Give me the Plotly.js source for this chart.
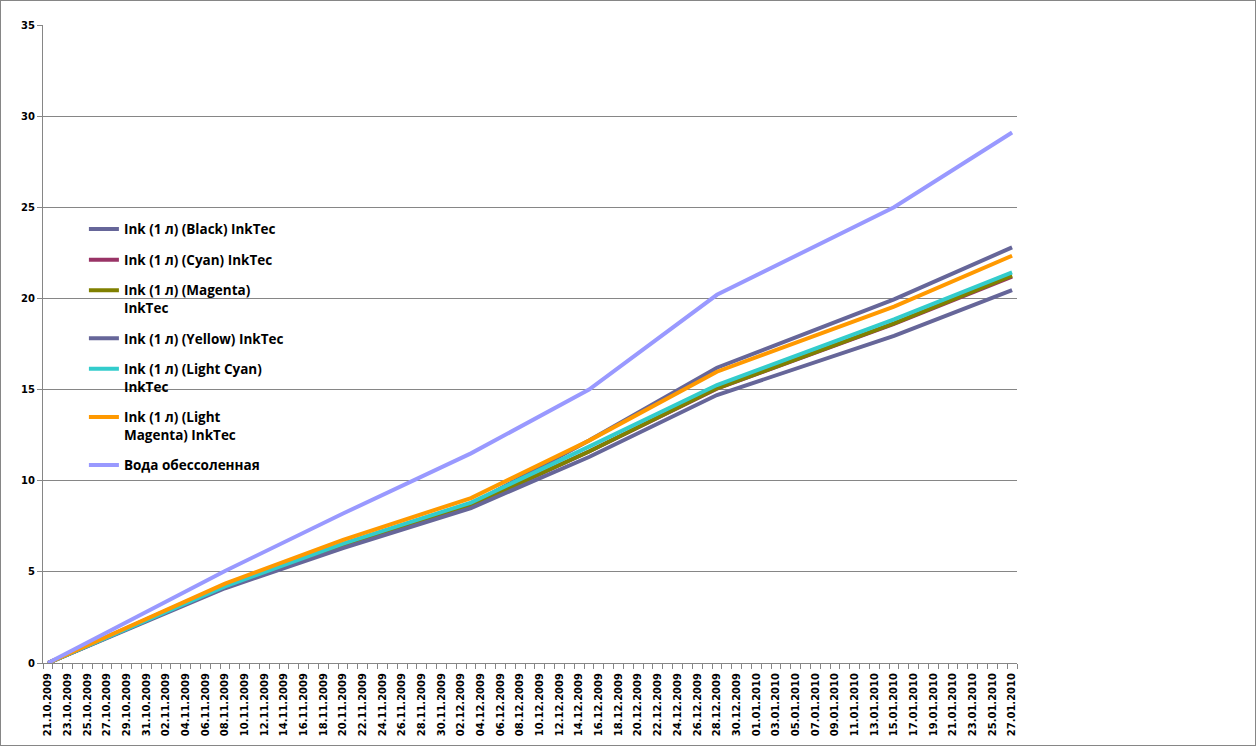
<!DOCTYPE html>
<html>
<head>
<meta charset="utf-8">
<script src="https://cdn.plot.ly/plotly-3.0.1.min.js"></script>
<style>
  body { margin: 0; background: #fff; }
  #chart { width: 1256px; height: 746px; }
  #frame { position: absolute; left: 0; top: 0; width: 1256px; height: 746px;
           box-sizing: border-box; border: 1px solid #868686; pointer-events: none; }
</style>
</head>
<body>
<div id="chart"></div>
<div id="frame"></div>
<script>
// measurement dates
var dates = ['2009-10-21', '2009-11-08', '2009-11-20', '2009-12-03',
             '2009-12-15', '2009-12-28', '2010-01-15', '2010-01-27'];

// values
var black        = [0, 4.3, 6.5, 8.7, 12.2, 16.2, 19.95, 22.8];
var cyan         = [0, 4.2, 6.45, 8.65, 11.6, 15.05, 18.6, 21.2];
var magenta      = [0, 4.2, 6.45, 8.65, 11.6, 15.07, 18.63, 21.25];
var yellow       = [0, 4.1, 6.3, 8.5, 11.3, 14.7, 17.94, 20.46];
var lightCyan    = [0, 4.2, 6.55, 8.8, 11.87, 15.25, 18.85, 21.43];
var lightMagenta = [0, 4.35, 6.75, 9.05, 12.2, 15.98, 19.55, 22.34];
var water        = [0, 5.05, 8.2, 11.5, 15.0, 20.2, 25.0, 29.1];

var names = ['Ink (1 л) (Black) InkTec', 'Ink (1 л) (Cyan) InkTec',
             'Ink (1 л) (Magenta)<br>InkTec', 'Ink (1 л) (Yellow) InkTec',
             'Ink (1 л) (Light Cyan)<br>InkTec', 'Ink (1 л) (Light<br>Magenta) InkTec',
             'Вода обессоленная'];
var series = [black, cyan, magenta, yellow, lightCyan, lightMagenta, water];
var colors = ['#666699', '#993366', '#808000', '#666699', '#33CCCC', '#FF9900', '#9999FF'];

var data = [];
for (var i = 0; i < series.length; i++) {
  data.push({
    type: 'scatter',
    mode: 'lines',
    x: dates,
    y: series[i],
    name: names[i],
    legendgroup: 'g' + i,
    line: { color: colors[i], width: 4 },
    hoverinfo: 'x+y+name'
  });
}

var day = 86400000;
var layout = {
  width: 1256,
  height: 746,
  margin: { l: 43, r: 239, t: 25, b: 83 },
  paper_bgcolor: '#fff',
  plot_bgcolor: '#fff',
  font: { family: 'DejaVu Sans', size: 10, color: '#000' },
  showlegend: true,
  legend: {
    x: 0.042, y: 0.704, xanchor: 'left', yanchor: 'top',
    bgcolor: 'rgba(0,0,0,0)',
    font: { family: 'Open Sans', size: 13.5, color: '#000', weight: 'bold' },
    tracegroupgap: 10,
    valign: 'top'
  },
  xaxis: {
    type: 'date',
    range: ['2009-10-20 12:00', '2010-01-27 12:00'],
    tick0: '2009-10-21',
    dtick: 2 * day,
    tickformat: '%d.%m.%Y',
    tickangle: -90,
    ticks: 'outside',
    ticklen: 5,
    tickcolor: 'rgba(0,0,0,0)',
    tickfont: { family: 'DejaVu Sans', size: 10, weight: 'bold' },
    minor: { ticks: 'outside', tick0: '2009-10-21 12:00', dtick: day, ticklen: 5, tickcolor: '#868686', showgrid: false },
    showgrid: false,
    showline: true,
    linecolor: '#868686',
    zeroline: false,
    fixedrange: true
  },
  yaxis: {
    range: [0, 35],
    dtick: 5,
    ticks: 'outside',
    ticklen: 5,
    tickcolor: '#868686',
    tickfont: { family: 'DejaVu Sans', size: 10, weight: 'bold' },
    showgrid: true,
    gridcolor: '#868686',
    showline: true,
    linecolor: '#868686',
    zeroline: false,
    fixedrange: true
  }
};

Plotly.newPlot('chart', data, layout, { displayModeBar: false, staticPlot: true });
</script>
</body>
</html>
